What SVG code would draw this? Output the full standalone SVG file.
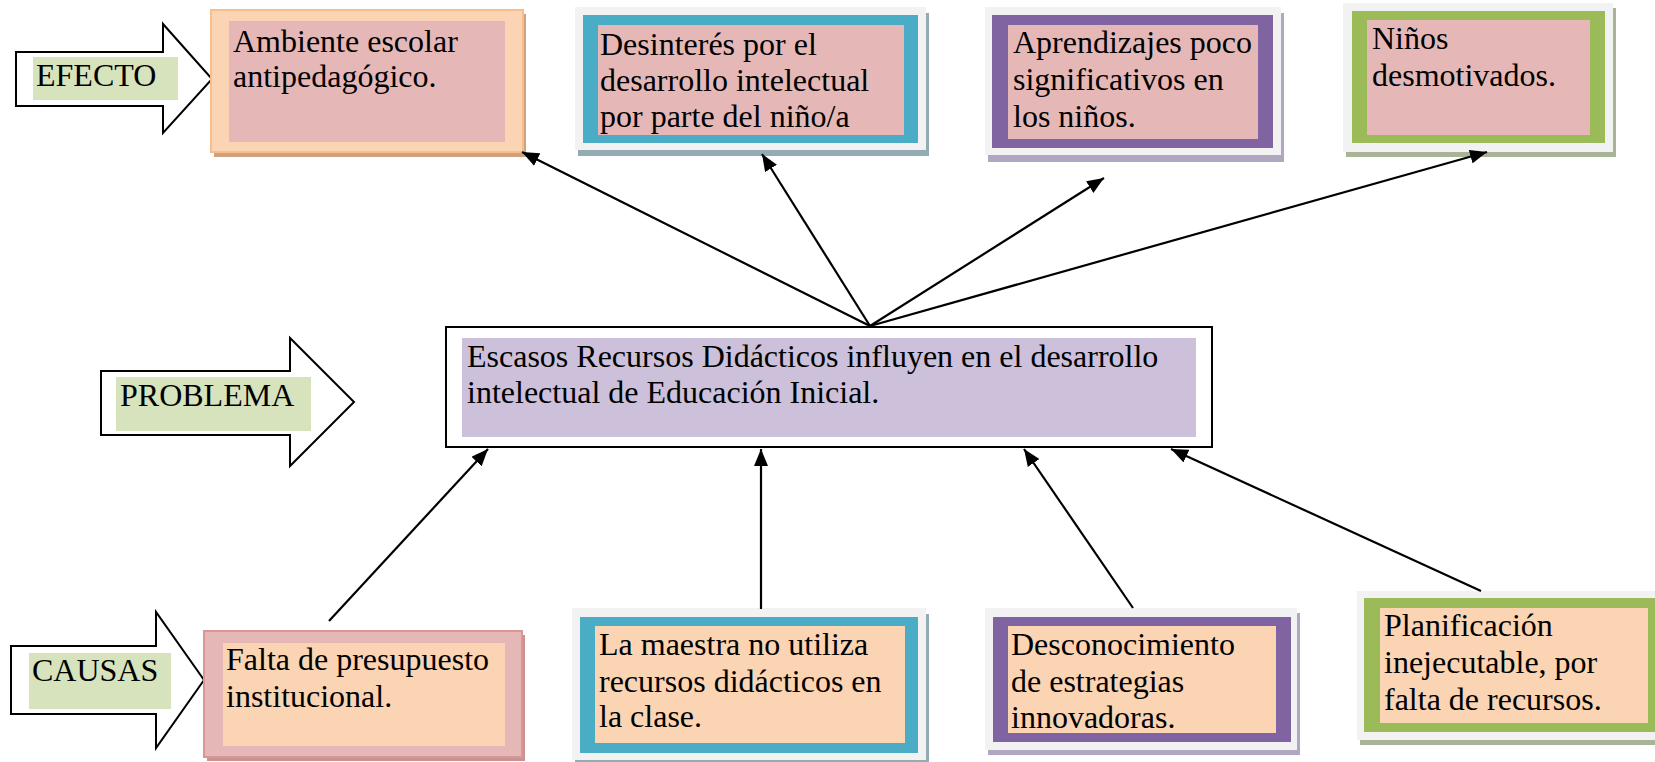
<svg xmlns="http://www.w3.org/2000/svg" width="1655" height="762" viewBox="0 0 1655 762">
<style>
  .t { font-family: "Liberation Serif", "Times New Roman", serif; font-size: 32px; fill: #000; }
  .gray { fill: #f2f2f2; }
  .pink { fill: #e5b8b7; }
  .peach { fill: #fbd4b4; }
  .blue { fill: #4bacc6; }
  .purple { fill: #8064a2; }
  .green { fill: #9bbb59; }
  .lav { fill: #ccc0da; }
  .lbl { fill: #d6e3bc; }
  .sh-blue { fill: #93abb3; }
  .sh-purple { fill: #b1a7c0; }
  .sh-green { fill: #a8b496; }
  .bigarrow { fill: #fff; stroke: #000; stroke-width: 2; stroke-linejoin: miter; }
  .conn { stroke: #000; stroke-width: 2.2; fill: none; }
</style>
<defs>
  <marker id="ah" markerUnits="userSpaceOnUse" markerWidth="18" markerHeight="14" refX="17" refY="7" orient="auto">
    <path d="M0,0 L17,7 L0,14 Z" fill="#000"/>
  </marker>
</defs>
<rect width="1655" height="762" fill="#fff"/>

<!-- Side arrows -->
<g id="efecto">
  <polygon class="bigarrow" points="16,52 163,52 163,24 212,79 163,133 163,106 16,106"/>
  <rect class="lbl" x="33" y="57" width="145" height="43"/>
  <text class="t" x="36" y="86">EFECTO</text>
</g>
<g id="problema">
  <polygon class="bigarrow" points="101,371 290,371 290,338 354,402 290,466 290,435 101,435"/>
  <rect class="lbl" x="116" y="377" width="195" height="54"/>
  <text class="t" x="120" y="406">PROBLEMA</text>
</g>
<g id="causas">
  <polygon class="bigarrow" points="11,646 156,646 156,612 204,680 156,748 156,714 11,714"/>
  <rect class="lbl" x="29" y="653" width="142" height="56"/>
  <text class="t" x="32" y="681">CAUSAS</text>
</g>

<!-- Effect boxes -->
<g id="efecto1">
  <rect x="214" y="14" width="312" height="143" fill="#cfa17e"/>
  <rect x="211" y="10" width="312" height="142" fill="#fbd4b4" stroke="#f8bd8d" stroke-width="2"/>
  <rect class="pink" x="229" y="21" width="276" height="121"/>
  <text class="t" x="233" y="52">Ambiente escolar</text>
  <text class="t" x="233" y="87">antipedagógico.</text>
</g>
<g id="efecto2">
  <rect class="sh-blue" x="578" y="13" width="351" height="143"/>
  <rect class="gray" x="575" y="7" width="351" height="143"/>
  <rect class="blue" x="583" y="15" width="335" height="128"/>
  <rect class="pink" x="598" y="25" width="306" height="110"/>
  <text class="t" x="600" y="55">Desinterés por el</text>
  <text class="t" x="600" y="91">desarrollo intelectual</text>
  <text class="t" x="600" y="127">por parte del niño/a</text>
</g>
<g id="efecto3">
  <rect class="sh-purple" x="988" y="13" width="296" height="149"/>
  <rect class="gray" x="985" y="7" width="296" height="148"/>
  <rect class="purple" x="992" y="15" width="281" height="133"/>
  <rect class="pink" x="1008" y="25" width="250" height="114"/>
  <text class="t" x="1013" y="53">Aprendizajes poco</text>
  <text class="t" x="1013" y="90">significativos en</text>
  <text class="t" x="1013" y="127">los niños.</text>
</g>
<g id="efecto4">
  <rect class="sh-green" x="1346" y="8" width="270" height="149"/>
  <rect class="gray" x="1343" y="3" width="270" height="149"/>
  <rect class="green" x="1352" y="11" width="253" height="132"/>
  <rect class="pink" x="1367" y="20" width="223" height="115"/>
  <text class="t" x="1372" y="49">Niños</text>
  <text class="t" x="1372" y="86">desmotivados.</text>
</g>

<!-- Problem box -->
<g id="problema-box">
  <rect x="446" y="327" width="766" height="120" fill="#fff" stroke="#000" stroke-width="2"/>
  <rect class="lav" x="462" y="338" width="734" height="99"/>
  <text class="t" x="467" y="367">Escasos Recursos Didácticos influyen en el desarrollo</text>
  <text class="t" x="467" y="403">intelectual de Educación Inicial.</text>
</g>

<!-- Cause boxes -->
<g id="causa1">
  <rect x="207" y="635" width="318" height="126" fill="#c59492"/>
  <rect x="204" y="631" width="318" height="126" fill="#e5b8b7" stroke="#d99694" stroke-width="2"/>
  <rect class="peach" x="223" y="643" width="282" height="103"/>
  <text class="t" x="226" y="670">Falta de presupuesto</text>
  <text class="t" x="226" y="707">institucional.</text>
</g>
<g id="causa2">
  <rect class="sh-blue" x="575" y="614" width="354" height="152"/>
  <rect class="gray" x="572" y="608" width="354" height="152"/>
  <rect class="blue" x="580" y="617" width="338" height="136"/>
  <rect class="peach" x="595" y="626" width="310" height="117"/>
  <text class="t" x="599" y="655">La maestra no utiliza</text>
  <text class="t" x="599" y="692">recursos didácticos en</text>
  <text class="t" x="599" y="727">la clase.</text>
</g>
<g id="causa3">
  <rect class="sh-purple" x="988" y="613" width="312" height="142"/>
  <rect class="gray" x="985" y="608" width="312" height="142"/>
  <rect class="purple" x="993" y="617" width="298" height="125"/>
  <rect class="peach" x="1008" y="626" width="268" height="107"/>
  <text class="t" x="1011" y="655">Desconocimiento</text>
  <text class="t" x="1011" y="692">de estrategias</text>
  <text class="t" x="1011" y="728">innovadoras.</text>
</g>
<g id="causa4">
  <rect class="sh-green" x="1360" y="596" width="310" height="149"/>
  <rect class="gray" x="1357" y="591" width="310" height="149"/>
  <rect class="green" x="1364" y="598" width="300" height="134"/>
  <rect class="peach" x="1380" y="608" width="268" height="115"/>
  <text class="t" x="1384" y="636">Planificación</text>
  <text class="t" x="1384" y="673">inejecutable, por</text>
  <text class="t" x="1384" y="710">falta de recursos.</text>
</g>

<!-- Connectors -->
<g id="connectors">
  <line class="conn" x1="870" y1="326" x2="522" y2="152" marker-end="url(#ah)"/>
  <line class="conn" x1="870" y1="326" x2="762" y2="154" marker-end="url(#ah)"/>
  <line class="conn" x1="870" y1="326" x2="1104" y2="178" marker-end="url(#ah)"/>
  <line class="conn" x1="870" y1="326" x2="1487" y2="152" marker-end="url(#ah)"/>
  <line class="conn" x1="329" y1="621" x2="488" y2="449" marker-end="url(#ah)"/>
  <line class="conn" x1="761" y1="609" x2="761" y2="449" marker-end="url(#ah)"/>
  <line class="conn" x1="1133" y1="608" x2="1024" y2="449" marker-end="url(#ah)"/>
  <line class="conn" x1="1481" y1="591" x2="1171" y2="449" marker-end="url(#ah)"/>
</g>
</svg>
